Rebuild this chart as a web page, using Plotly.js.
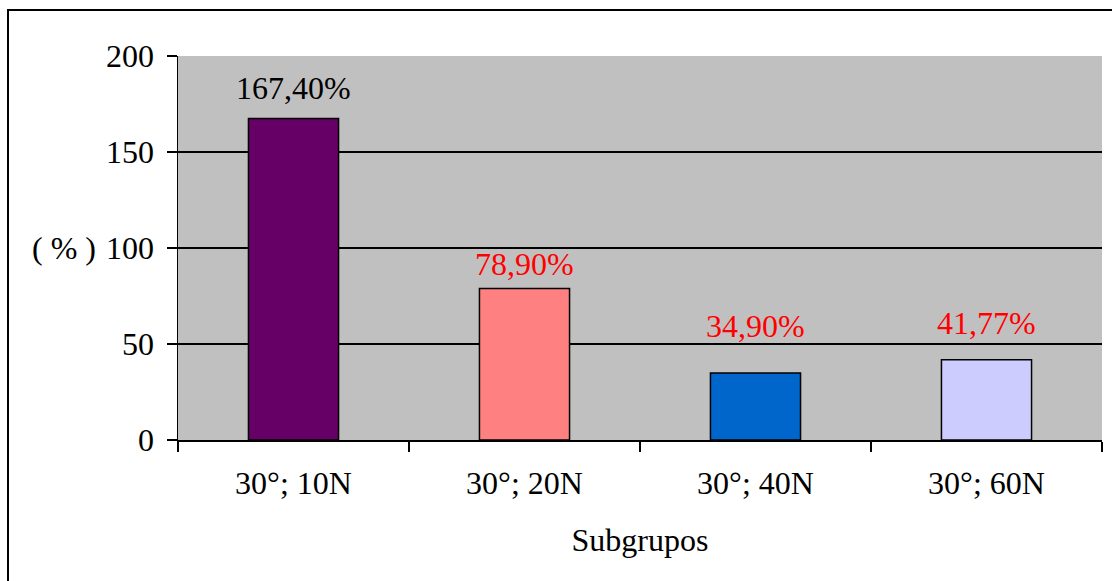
<!DOCTYPE html>
<html>
<head>
<meta charset="utf-8">
<script src="https://cdn.plot.ly/plotly-3.0.1.min.js"></script>
<style>
  html, body { margin: 0; padding: 0; background: #fff; }
  #wrap { position: relative; width: 1112px; height: 581px; overflow: hidden; }
  #chart { position: absolute; left: 0; top: 0; width: 1112px; height: 581px; }
  #frame { position: absolute; left: 7px; top: 9px; width: 1200px; height: 700px;
           border-left: 2px solid #000; border-top: 2px solid #000; pointer-events: none; }
</style>
</head>
<body>
<div id="wrap">
  <div id="chart"></div>
  <div id="frame"></div>
</div>
<script>
// Subgroups (angle; load) and their percentages
const categories = ['30°; 10N', '30°; 20N', '30°; 40N', '30°; 60N'];
const values = [167.40, 78.90, 34.90, 41.77];
const valueLabels = ['167,40%', '78,90%', '34,90%', '41,77%'];
const barColors = ['#660066', '#FF8080', '#0066CC', '#CCCCFF'];
const labelColors = ['#000000', '#FF0000', '#FF0000', '#FF0000'];
const labelLift = [11, 5, 27, 17];   // pixel gap between each label and its bar
const yTicks = [0, 50, 100, 150, 200];

const FONT = 'Liberation Serif, Times New Roman, serif';
const FS = 32;

const trace = {
  type: 'bar',
  x: categories,
  y: values,
  width: 0.39,
  marker: { color: barColors, line: { color: '#000', width: 1.5 } },
  hoverinfo: 'skip'
};

const annotations = categories.map((c, i) => ({
  x: c, y: values[i], xref: 'x', yref: 'y',
  text: valueLabels[i], showarrow: false,
  xanchor: 'center', yanchor: 'bottom', yshift: labelLift[i],
  font: { family: FONT, size: FS, color: labelColors[i] }
}));

annotations.push({
  x: 0, y: 100, xref: 'paper', yref: 'y',
  text: '( % )', showarrow: false,
  xanchor: 'right', yanchor: 'middle', xshift: -80,
  font: { family: FONT, size: FS, color: '#000' }
});

const layout = {
  width: 1112, height: 581,
  margin: { l: 178, r: 10, t: 56, b: 141 },
  paper_bgcolor: 'rgba(0,0,0,0)',
  plot_bgcolor: '#C0C0C0',
  showlegend: false,
  font: { family: FONT, size: FS, color: '#000' },
  xaxis: {
    type: 'category',
    tickson: 'boundaries',
    ticks: 'outside', ticklen: 10, tickwidth: 1.5, tickcolor: '#000',
    showline: true, linecolor: '#000', linewidth: 1.5,
    showgrid: false,
    tickfont: { family: FONT, size: FS, color: '#000' },
    ticklabelstandoff: 14,
    title: { text: 'Subgrupos', font: { family: FONT, size: FS, color: '#000' }, standoff: 28 }
  },
  yaxis: {
    range: [0, 200],
    tickvals: yTicks,
    ticks: 'outside', ticklen: 10, tickwidth: 1.5, tickcolor: '#000',
    showline: true, linecolor: '#000', linewidth: 1.5,
    showgrid: true, gridcolor: '#000', gridwidth: 1.5,
    zeroline: false,
    ticklabelstandoff: 6,
    tickfont: { family: FONT, size: FS, color: '#000' }
  },
  bargap: 0.61,
  annotations: annotations
};

Plotly.newPlot('chart', [trace], layout, { displayModeBar: false, staticPlot: true });
</script>
</body>
</html>
